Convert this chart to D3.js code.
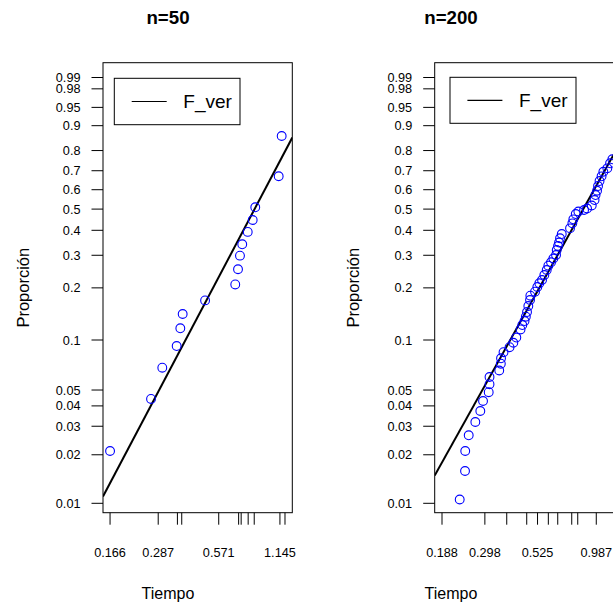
<!DOCTYPE html>
<html>
<head>
<meta charset="utf-8">
<script src="https://cdn.jsdelivr.net/npm/d3@7/dist/d3.min.js"></script>
<style>
  html, body { margin: 0; padding: 0; background: #fff; }
  svg { display: block; font-family: "Liberation Sans", Arial, Helvetica, sans-serif; }
</style>
</head>
<body>
<svg id="chart" width="613" height="608"></svg>
<script>
// ---------------- data ----------------
const panelTitles = ["n=50", "n=200"];
const xAxisTitle = "Tiempo";
const yAxisTitle = "Proporción";
const legendLabel = "F_ver";

// left panel (n=50): failure times and plotting proportions
const leftTimes = [0.166, 0.2645, 0.3006, 0.354, 0.369, 0.379, 0.489, 0.689, 0.711, 0.727, 0.746, 0.794, 0.840, 0.865, 1.129, 1.168];
const leftProbs = [0.0211, 0.0441, 0.0683, 0.0921, 0.1172, 0.142, 0.170, 0.209, 0.253, 0.2986, 0.3415, 0.393, 0.447, 0.509, 0.671, 0.8625];

// right panel (n=200)
const rightTimes = [0.2274, 0.2408, 0.2413, 0.2505, 0.2690, 0.2838, 0.2922, 0.3106, 0.3133, 0.3133,
  0.3478, 0.3538, 0.3546, 0.3642, 0.3885, 0.4047, 0.4179, 0.4373, 0.4458, 0.4565,
  0.4629, 0.4689, 0.4755, 0.4843, 0.4859, 0.5110, 0.5238, 0.5352, 0.5510, 0.5648,
  0.5795, 0.5896, 0.6070, 0.6222, 0.6405, 0.6453, 0.6544, 0.6615, 0.6686, 0.6810,
  0.7445, 0.7632, 0.7714, 0.7916, 0.8141, 0.8656, 0.8939, 0.9403, 0.9690, 0.9794,
  0.9954, 1.0061, 1.0224, 1.0448, 1.0651, 1.1119, 1.1447, 1.1734];
const rightProbs = [0.01056, 0.01587, 0.0211, 0.02638, 0.03186, 0.03723, 0.04287, 0.0485, 0.05426, 0.0600,
  0.06569, 0.07218, 0.07778, 0.0846, 0.09063, 0.09635, 0.1034, 0.1154, 0.1225, 0.1293,
  0.1370, 0.1458, 0.1579, 0.1708, 0.1807, 0.1903, 0.2022, 0.2120, 0.2211, 0.2355,
  0.2506, 0.2643, 0.2756, 0.2885, 0.3010, 0.3194, 0.3347, 0.3485, 0.3657, 0.3838,
  0.4088, 0.4315, 0.4502, 0.4757, 0.4880, 0.4954, 0.5029, 0.5180, 0.5460, 0.5720,
  0.5946, 0.6194, 0.6459, 0.6707, 0.6948, 0.7124, 0.7380, 0.7580];

// true Weibull distribution line (F_ver)
const trueShape = 2.4;
const trueScale = 1.0;

// axis limits
const leftXLimits = [0.1532, 1.318];
const rightXLimits = [0.1738, 1.3298];
const yLimits = [0.00874, 0.99665];

// ticks
const yTickValues = [0.01, 0.02, 0.03, 0.04, 0.05, 0.1, 0.2, 0.3, 0.4, 0.5, 0.6, 0.7, 0.8, 0.9, 0.95, 0.98, 0.99];
const yTickLabels = ["0.01", "0.02", "0.03", "0.04", "0.05", "0.1", "0.2", "0.3", "0.4", "0.5", "0.6", "0.7", "0.8", "0.9", "0.95", "0.98", "0.99"];
const leftXTicks  = [0.166, 0.287, 0.357, 0.375, 0.571, 0.716, 0.737, 0.798, 0.855, 1.145, 1.213];
const leftXLabels = ["0.166", "0.287", "", "", "0.571", "", "", "", "", "1.145", ""];
const rightXTicks  = [0.188, 0.298, 0.377, 0.4674, 0.525, 0.5896, 0.6523, 0.7583, 0.8088, 0.987, 1.23];
const rightXLabels = ["0.188", "0.298", "", "", "0.525", "", "", "", "", "0.987", ""];

// ---------------- drawing ----------------
const svg = d3.select("#chart");
svg.append("rect").attr("width", 613).attr("height", 608).attr("fill", "#fff");

const weib = p => Math.log(-Math.log(1 - p));

const panels = [
  { title: panelTitles[0], times: leftTimes, probs: leftProbs, xLim: leftXLimits,
    xTicks: leftXTicks, xLabels: leftXLabels,
    box: { l: 103, r: 292.3, t: 62.7, b: 512.7 }, titleX: 168, ylabX: 28.5,
    legend: { x: 114.3, y: 78.3, w: 125.7, h: 46.4 } },
  { title: panelTitles[1], times: rightTimes, probs: rightProbs, xLim: rightXLimits,
    xTicks: rightXTicks, xLabels: rightXLabels,
    box: { l: 434.7, r: 624, t: 62.7, b: 512.7 }, titleX: 451, ylabX: 358.5,
    legend: { x: 450, y: 77.3, w: 126, h: 46 } }
];

panels.forEach((P, i) => {
  const B = P.box;
  const x = d3.scaleLog().domain(P.xLim).range([B.l, B.r]);
  const yT = d3.scaleLinear().domain([weib(yLimits[0]), weib(yLimits[1])]).range([B.b, B.t]);
  const y = p => yT(weib(p));

  const g = svg.append("g");

  // clip
  const clipId = "clip" + i;
  svg.append("clipPath").attr("id", clipId)
    .append("rect").attr("x", B.l).attr("y", B.t).attr("width", B.r - B.l).attr("height", B.b - B.t);

  // true line
  const lineData = P.xLim.map(t => ({ t: t, p: 1 - Math.exp(-Math.pow(t / trueScale, trueShape)) }));
  g.append("path")
    .attr("clip-path", `url(#${clipId})`)
    .attr("d", d3.line().x(d => x(d.t)).y(d => y(d.p))(lineData))
    .attr("fill", "none").attr("stroke", "#000").attr("stroke-width", 2);

  // points
  g.append("g").attr("clip-path", `url(#${clipId})`)
    .selectAll("circle").data(P.times.map((t, k) => ({ t: t, p: P.probs[k] })))
    .join("circle")
    .attr("cx", d => x(d.t)).attr("cy", d => y(d.p)).attr("r", 4.4)
    .attr("fill", "none").attr("stroke", "#0000ff").attr("stroke-width", 1.1);

  // box
  g.append("rect").attr("x", B.l).attr("y", B.t).attr("width", B.r - B.l).attr("height", B.b - B.t)
    .attr("fill", "none").attr("stroke", "#000").attr("stroke-width", 1);

  // y axis
  const yAxis = g.append("g");
  yTickValues.forEach((v, k) => {
    const yy = y(v);
    yAxis.append("line").attr("x1", B.l - 11.5).attr("x2", B.l).attr("y1", yy).attr("y2", yy)
      .attr("stroke", "#000").attr("stroke-width", 1);
    yAxis.append("text").attr("x", B.l - 22.5).attr("y", yy).attr("dy", "0.36em")
      .attr("text-anchor", "end").attr("font-size", 12.7).attr("fill", "#000").text(yTickLabels[k]);
  });

  // x axis
  const xAxis = g.append("g");
  P.xTicks.forEach((v, k) => {
    const xx = x(v);
    xAxis.append("line").attr("x1", xx).attr("x2", xx).attr("y1", B.b).attr("y2", B.b + 12)
      .attr("stroke", "#000").attr("stroke-width", 1);
    if (P.xLabels[k]) {
      xAxis.append("text").attr("x", xx).attr("y", 552).attr("dy", "0.36em")
        .attr("text-anchor", "middle").attr("font-size", 12.7).attr("fill", "#000").text(P.xLabels[k]);
    }
  });

  // titles
  g.append("text").attr("x", P.titleX).attr("y", 24).attr("text-anchor", "middle")
    .attr("font-size", 18.7).attr("font-weight", "bold").attr("fill", "#000").text(P.title);
  g.append("text").attr("x", P.titleX).attr("y", 599).attr("text-anchor", "middle")
    .attr("font-size", 16).attr("fill", "#000").text(xAxisTitle);
  g.append("text").attr("transform", `translate(${P.ylabX},${(B.t + B.b) / 2}) rotate(-90)`)
    .attr("text-anchor", "middle").attr("font-size", 16.5).attr("fill", "#000").text(yAxisTitle);

  // legend
  const L = P.legend;
  const lg = g.append("g");
  lg.append("rect").attr("x", L.x).attr("y", L.y).attr("width", L.w).attr("height", L.h)
    .attr("fill", "#fff").attr("stroke", "#000").attr("stroke-width", 1);
  const ly = L.y + L.h / 2;
  lg.append("line").attr("x1", L.x + 17.4).attr("x2", L.x + 52.4).attr("y1", ly).attr("y2", ly)
    .attr("stroke", "#000").attr("stroke-width", 1.2);
  lg.append("text").attr("x", L.x + 69).attr("y", ly).attr("dy", "0.36em")
    .attr("font-size", 19).attr("fill", "#000").text(legendLabel);
});
</script>
</body>
</html>
